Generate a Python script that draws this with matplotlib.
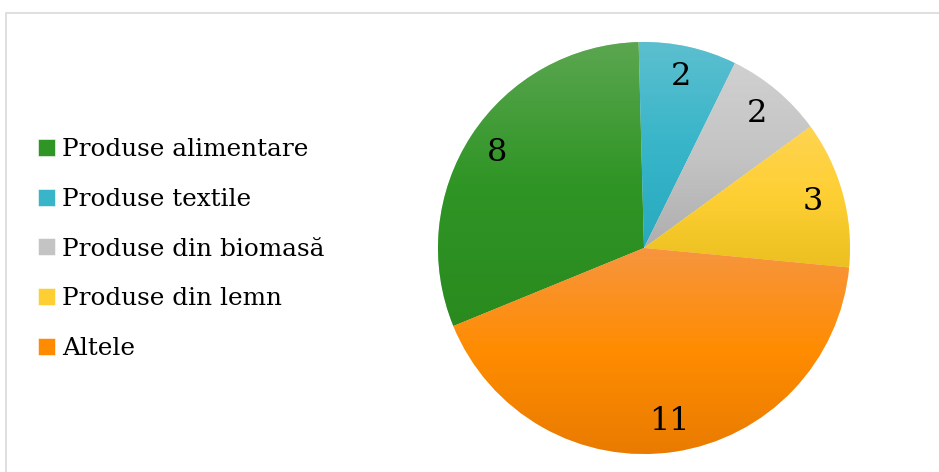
import numpy as np
import matplotlib.pyplot as plt
from matplotlib.colors import LinearSegmentedColormap
from matplotlib.patches import Rectangle

plt.rcParams['font.family'] = ['DejaVu Serif']

categories = ['Produse alimentare', 'Produse textile', 'Produse din biomasă',
              'Produse din lemn', 'Altele']
values = [8, 2, 2, 3, 11]

# top / middle / bottom of the vertical gradient on every slice
shades = [
    ('#5ba650', '#2f9525', '#2a8a1f'),
    ('#5cbfcf', '#38b5c9', '#28aabf'),
    ('#d0d0d0', '#c4c4c4', '#aeaeae'),
    ('#ffd451', '#fecf33', '#ebc020'),
    ('#f7953f', '#ff8c00', '#e97b00'),
]
base = [s[1] for s in shades]

W, H = 939, 472
fig = plt.figure(figsize=(W / 100, H / 100), dpi=100)
fig.patches.append(Rectangle((5.5 / W, -0.1), 2, (H - 12.5) / H + 0.1,
                             transform=fig.transFigure, fill=False,
                             edgecolor='#d9d9d9', linewidth=1.2))

# pie centre (644, 248) px, radius 206 px
cx, cy, r = 644, 248, 206
ax = fig.add_axes([(cx - r) / W, (H - cy - r) / H, 2 * r / W, 2 * r / H])

start = 91.5 + values[0] / sum(values) * 360
wedges, texts, autotexts = ax.pie(
    values, colors=base, startangle=start, counterclock=False,
    autopct=lambda p: '%d' % round(p * sum(values) / 100), pctdistance=0.85,
    wedgeprops=dict(edgecolor='white', linewidth=0.4),
    textprops=dict(fontsize=23, color='black'))

# vertical gradient clipped to each wedge
for w, s in zip(wedges, shades):
    cmap = LinearSegmentedColormap.from_list('g', [s[2], s[1], s[0]])
    ang = np.radians(np.linspace(w.theta1, w.theta2, 200))
    xs = np.concatenate([[0], np.cos(ang)])
    ys = np.concatenate([[0], np.sin(ang)])
    grad = np.linspace(0, 1, 256).reshape(-1, 1)
    im = ax.imshow(grad, cmap=cmap, origin='lower', aspect='auto',
                   extent=(xs.min(), xs.max(), ys.min(), ys.max()), zorder=1.5)
    im.set_clip_path(w)
for t in autotexts:
    t.set_zorder(3)
ax.set_xlim(-1, 1)
ax.set_ylim(-1, 1)
ax.set_aspect('equal')
ax.axis('off')

fig.legend(wedges, categories, loc='center left',
           bbox_to_anchor=(28 / W, (H - 249) / H), frameon=False,
           fontsize=17.8, handlelength=0.68, handleheight=0.68,
           handletextpad=0.3, labelspacing=1.08, borderaxespad=0)

fig.savefig('out.png', dpi=100)
